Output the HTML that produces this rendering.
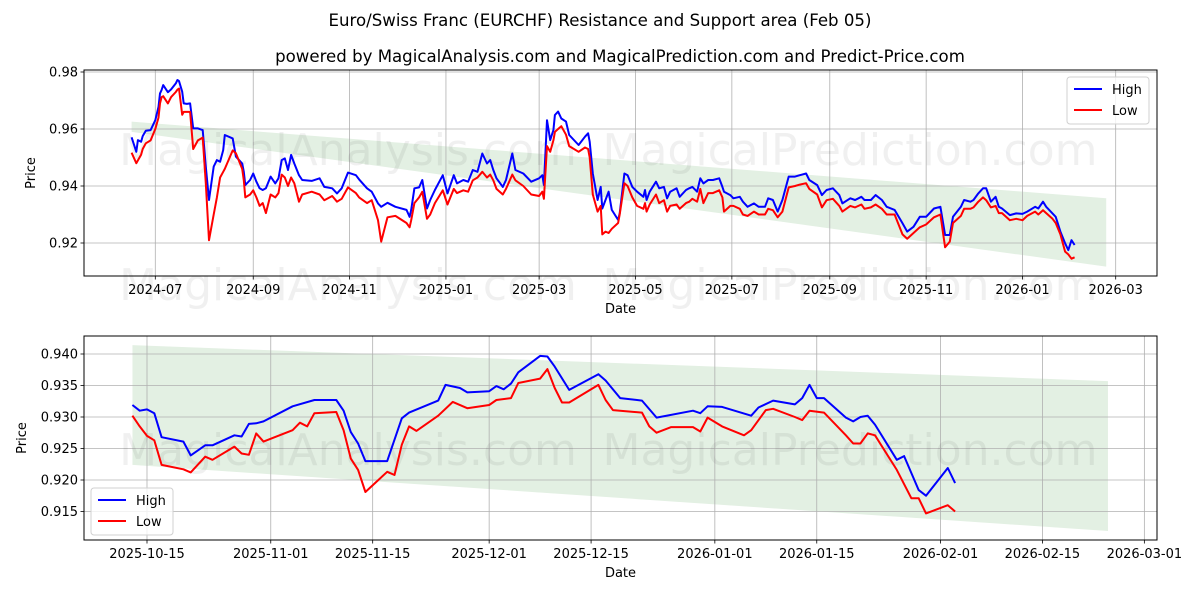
<!DOCTYPE html>
<html><head><meta charset="utf-8"><style>
body{margin:0;background:#fff;width:1200px;height:600px;overflow:hidden}
svg{display:block;font-family:"DejaVu Sans","Liberation Sans",sans-serif}
</style></head><body>
<svg id="chart" width="1200" height="600" viewBox="0 0 1200 600">
<text x="600" y="26" text-anchor="middle" font-size="16.6">Euro/Swiss Franc (EURCHF) Resistance and Support area (Feb 05)</text>
<text x="620" y="62" text-anchor="middle" font-size="16.6">powered by MagicalAnalysis.com and MagicalPrediction.com and Predict-Price.com</text>
<g id="top"></g>
<g id="bot"></g>
</svg>
<script>
// ---- top chart data (days since 2024-07-01) ----
const topDays=[-15,-12,-11,-9,-8,-6,-3,0,2,3,4,5,8,10,13,14,15,17,18,20,22,24,27,30,32,34,37,39,41,43,44,49,51,55,56,57,60,62,64,66,68,70,73,76,78,80,82,84,86,88,91,93,99,104,107,112,115,118,122,127,129,134,137,141,143,147,152,159,161,162,164,167,169,172,174,177,182,185,189,191,195,198,201,204,207,210,212,214,216,220,222,226,228,233,238,243,245,246,248,250,252,253,255,257,260,262,268,272,274,275,277,280,282,283,285,287,289,293,294,297,299,302,305,309,310,311,313,317,319,322,324,326,330,332,336,338,340,343,345,347,350,353,357,359,360,364,366,370,372,375,379,382,386,388,391,394,397,401,405,408,412,414,419,422,425,429,433,435,440,443,447,449,453,456,460,463,468,473,476,480,484,488,493,497,500,503,505,510,512,516,518,521,524,526,529,532,534,536,541,545,549,552,557,559,562,564,568,570,573,576,578,580,582];
const topHigh=[0.9571,0.9520,0.9561,0.9555,0.9575,0.9594,0.9596,0.9631,0.9678,0.9725,0.9737,0.9754,0.9729,0.9739,0.9760,0.9772,0.9768,0.9731,0.9690,0.9688,0.9690,0.9602,0.9602,0.9596,0.9468,0.9351,0.9468,0.9491,0.9485,0.9526,0.9579,0.9567,0.9503,0.9479,0.9450,0.9403,0.9421,0.9444,0.9415,0.9392,0.9386,0.9392,0.9433,0.9409,0.9427,0.9491,0.9497,0.9456,0.9509,0.9479,0.9438,0.9421,0.9418,0.9427,0.9397,0.9392,0.9374,0.9392,0.9447,0.9438,0.9423,0.9392,0.9380,0.9339,0.9327,0.9341,0.9327,0.9316,0.9292,0.9316,0.9392,0.9395,0.9421,0.9321,0.9351,0.9386,0.9438,0.9374,0.9438,0.9409,0.9421,0.9415,0.9456,0.9450,0.9514,0.9479,0.9491,0.9456,0.9427,0.9397,0.9421,0.9514,0.9456,0.9444,0.9415,0.9427,0.9438,0.9403,0.9631,0.9561,0.9596,0.9649,0.9661,0.9637,0.9626,0.9579,0.9544,0.9573,0.9585,0.9555,0.9444,0.9351,0.9397,0.9321,0.9351,0.9380,0.9316,0.9281,0.9304,0.9444,0.9438,0.9397,0.9380,0.9362,0.9386,0.9351,0.9380,0.9415,0.9392,0.9397,0.9357,0.9380,0.9392,0.9362,0.9386,0.9392,0.9397,0.9380,0.9427,0.9409,0.9421,0.9421,0.9427,0.9397,0.9380,0.9368,0.9357,0.9362,0.9345,0.9327,0.9339,0.9327,0.9327,0.9357,0.9351,0.9310,0.9351,0.9433,0.9433,0.9438,0.9444,0.9421,0.9403,0.9368,0.9386,0.9392,0.9368,0.9339,0.9357,0.9351,0.9362,0.9351,0.9351,0.9368,0.9351,0.9327,0.9316,0.9269,0.9240,0.9257,0.9292,0.9292,0.9321,0.9327,0.9228,0.9228,0.9292,0.9327,0.9351,0.9345,0.9351,0.9374,0.9392,0.9392,0.9345,0.9362,0.9327,0.9321,0.9298,0.9304,0.9302,0.9310,0.9327,0.9321,0.9345,0.9327,0.9304,0.9292,0.9240,0.9199,0.9175,0.9210,0.9193];
const topLow=[0.9517,0.9480,0.9490,0.9510,0.9530,0.9550,0.9560,0.9600,0.9640,0.9690,0.9712,0.9715,0.9690,0.9712,0.9730,0.9738,0.9742,0.9650,0.9660,0.9660,0.9660,0.9530,0.9560,0.9570,0.9410,0.9210,0.9300,0.9360,0.9430,0.9450,0.9460,0.9525,0.9515,0.9460,0.9420,0.9360,0.9370,0.9385,0.9360,0.9330,0.9340,0.9305,0.9370,0.9360,0.9375,0.9440,0.9430,0.9400,0.9430,0.9410,0.9345,0.9370,0.9380,0.9370,0.9350,0.9365,0.9345,0.9355,0.9395,0.9375,0.9360,0.9340,0.9350,0.9280,0.9205,0.9290,0.9295,0.9270,0.9255,0.9280,0.9340,0.9360,0.9380,0.9285,0.9300,0.9340,0.9385,0.9335,0.9390,0.9375,0.9385,0.9380,0.9420,0.9430,0.9450,0.9430,0.9440,0.9420,0.9390,0.9370,0.9390,0.9440,0.9420,0.9400,0.9370,0.9365,0.9380,0.9355,0.9540,0.9520,0.9560,0.9590,0.9600,0.9610,0.9580,0.9540,0.9520,0.9535,0.9530,0.9500,0.9370,0.9310,0.9330,0.9230,0.9240,0.9235,0.9250,0.9270,0.9300,0.9410,0.9400,0.9360,0.9330,0.9320,0.9340,0.9310,0.9335,0.9370,0.9340,0.9350,0.9310,0.9330,0.9335,0.9320,0.9340,0.9345,0.9355,0.9345,0.9390,0.9340,0.9375,0.9375,0.9385,0.9360,0.9310,0.9330,0.9330,0.9320,0.9300,0.9295,0.9310,0.9300,0.9300,0.9320,0.9315,0.9290,0.9310,0.9395,0.9400,0.9405,0.9410,0.9390,0.9370,0.9325,0.9350,0.9355,0.9330,0.9310,0.9330,0.9325,0.9335,0.9320,0.9325,0.9335,0.9320,0.9300,0.9300,0.9230,0.9215,0.9235,0.9255,0.9265,0.9290,0.9300,0.9185,0.9205,0.9270,0.9295,0.9320,0.9320,0.9325,0.9345,0.9360,0.9350,0.9325,0.9330,0.9305,0.9305,0.9280,0.9285,0.9280,0.9295,0.9310,0.9300,0.9315,0.9305,0.9285,0.9270,0.9230,0.9170,0.9160,0.9145,0.9150];
const topBandDays=[-15,602];
const topBandUpper=[0.9626,0.9357];
const topBandLower=[0.9590,0.9117];
const topTickDays=[0,62,123,184,243,304,365,427,488,549,608];
const topTickLabels=["2024-07","2024-09","2024-11","2025-01","2025-03","2025-05","2025-07","2025-09","2025-11","2026-01","2026-03"];
const topYTicks=[0.92,0.94,0.96,0.98];

// ---- bottom chart data (days since 2025-10-15) ----
const botHighDays=[-2,-1,0,1,2,5,6,8,9,12,13,14,15,16,20,23,26,27,28,29,30,33,35,36,40,41,43,44,47,48,49,50,51,54,55,56,58,62,63,65,68,70,75,76,77,79,83,84,86,89,90,91,92,93,96,97,98,99,100,103,104,106,107,110,111];
const botHigh=[0.9319,0.9310,0.9312,0.9306,0.9268,0.9261,0.9239,0.9255,0.9255,0.9271,0.9269,0.9289,0.9290,0.9293,0.9317,0.9327,0.9327,0.9310,0.9276,0.9258,0.9230,0.9230,0.9298,0.9307,0.9326,0.9351,0.9346,0.9339,0.9341,0.9349,0.9344,0.9353,0.9371,0.9397,0.9396,0.9380,0.9343,0.9368,0.9358,0.9330,0.9326,0.9299,0.9310,0.9306,0.9317,0.9316,0.9302,0.9315,0.9326,0.9320,0.9330,0.9351,0.9330,0.9330,0.9299,0.9293,0.9300,0.9302,0.9288,0.9232,0.9238,0.9184,0.9175,0.9219,0.9195];
const botLowDays=[-2,-1,0,1,2,5,6,8,9,12,13,14,15,16,20,21,22,23,26,27,28,29,30,33,34,35,36,37,40,42,44,47,48,50,51,54,55,56,57,58,62,63,64,68,69,70,72,75,76,77,79,82,83,85,86,89,90,91,93,96,97,98,99,100,103,105,106,107,110,111];
const botLow=[0.9302,0.9285,0.9270,0.9263,0.9224,0.9217,0.9212,0.9237,0.9232,0.9253,0.9242,0.9240,0.9274,0.9261,0.9279,0.9291,0.9285,0.9306,0.9308,0.9279,0.9234,0.9216,0.9181,0.9213,0.9208,0.9256,0.9285,0.9278,0.9302,0.9324,0.9314,0.9319,0.9327,0.9330,0.9354,0.9361,0.9376,0.9346,0.9323,0.9323,0.9351,0.9327,0.9311,0.9307,0.9285,0.9275,0.9284,0.9284,0.9277,0.9299,0.9285,0.9271,0.9279,0.9311,0.9313,0.9300,0.9295,0.9310,0.9307,0.9271,0.9258,0.9258,0.9274,0.9271,0.9216,0.9171,0.9171,0.9147,0.9160,0.9150];
const botBandDays=[-2,132];
const botBandUpper=[0.9414,0.9357];
const botBandLower=[0.9224,0.9119];
const botTickDays=[0,17,31,47,61,78,92,109,123,137];
const botTickLabels=["2025-10-15","2025-11-01","2025-11-15","2025-12-01","2025-12-15","2026-01-01","2026-01-15","2026-02-01","2026-02-15","2026-03-01"];
const botYTicks=[0.915,0.920,0.925,0.930,0.935,0.940];

const NS="http://www.w3.org/2000/svg";
function mk(parent,tag,attrs,text){const e=document.createElementNS(NS,tag);for(const k in attrs)e.setAttribute(k,attrs[k]);if(text!==undefined)e.textContent=text;parent.appendChild(e);return e;}

function panel(g,o){
  const {L,R,T,B,xf,yf}=o;
  const clip=mk(g,'clipPath',{id:o.id+'clip'});mk(clip,'rect',{x:L,y:T,width:R-L,height:B-T});
  const bp=[];
  for(let i=0;i<o.bandDays.length;i++)bp.push(xf(o.bandDays[i])+','+yf(o.bandUpper[i]));
  for(let i=o.bandDays.length-1;i>=0;i--)bp.push(xf(o.bandDays[i])+','+yf(o.bandLower[i]));
  const band=mk(g,'polygon',{points:bp.join(' '),fill:'#e3f0e3','clip-path':'url(#'+o.id+'clip)'});
  
  
  o.yTicks.forEach(v=>{
    const y=yf(v);
    const gl=mk(g,'line',{x1:L,x2:R,y1:y,y2:y,stroke:'#b0b0b0','stroke-width':0.8});
    
    
    mk(g,'line',{x1:L-3.5,x2:L,y1:y,y2:y,stroke:'#000','stroke-width':0.8});
    const t=mk(g,'text',{x:L-6,y:y+4.5,'text-anchor':'end','font-size':13},o.yFmt(v));
    
    
  });
  o.tickDays.forEach((d,i)=>{
    const x=xf(d);
    const gl=mk(g,'line',{x1:x,x2:x,y1:T,y2:B,stroke:'#b0b0b0','stroke-width':0.8});
    
    
    mk(g,'line',{x1:x,x2:x,y1:B,y2:B+3.5,stroke:'#000','stroke-width':0.8});
    const t=mk(g,'text',{x:x,y:B+18,'text-anchor':'middle','font-size':13},o.tickLabels[i]);
    
    
  });
  o.marks.forEach(m=>{
    const w=mk(g,'text',{x:m[0],y:m[1],'text-anchor':'middle','font-size':44,fill:'#000','fill-opacity':0.06},m[2]);
    
    
  });
  function line(days,vals,color,name){
    const p=days.map((d,i)=>xf(d).toFixed(1)+','+yf(vals[i]).toFixed(1)).join(' ');
    const l=mk(g,'polyline',{points:p,fill:'none',stroke:color,'stroke-width':2,'stroke-linejoin':'round','clip-path':'url(#'+o.id+'clip)'});
    
    
  }
  line(o.hiDays,o.hi,'#0000ff','high-line');
  line(o.loDays,o.lo,'#ff0000','low-line');
  const fr=mk(g,'rect',{x:L,y:T,width:R-L,height:B-T,fill:'none',stroke:'#000','stroke-width':1});
  
  
  const xl=mk(g,'text',{x:(L+R)/2,y:B+37,'text-anchor':'middle','font-size':13},'Date');
  
  
  const yl=mk(g,'text',{x:o.ylX,y:(T+B)/2,'text-anchor':'middle','font-size':13,transform:'rotate(-90 '+o.ylX+' '+(T+B)/2+')'},'Price');
  
  
  const [lx,ly]=o.leg;
  const lg=mk(g,'g',{});
  
  
  mk(lg,'rect',{x:lx,y:ly,width:82,height:47,rx:3,fill:'#fff','fill-opacity':0.8,stroke:'#d0d0d0'});
  [['High','#0000ff'],['Low','#ff0000']].forEach((e,i)=>{
    const ent=mk(lg,'g',{});
    
    
    const yy=ly+12+i*21;
    mk(ent,'line',{x1:lx+7,x2:lx+35,y1:yy,y2:yy,stroke:e[1],'stroke-width':2});
    mk(ent,'text',{x:lx+45,y:yy+5,'font-size':13},e[0]);
  });
}

panel(document.getElementById('top'),{id:'t',L:84,R:1157,T:70,B:276,
  xf:d=>155.3+1.5796*d, yf:v=>243-(v-0.92)*2850,
  yTicks:topYTicks,yFmt:v=>v.toFixed(2),tickDays:topTickDays,tickLabels:topTickLabels,
  bandDays:topBandDays,bandUpper:topBandUpper,bandLower:topBandLower,
  hiDays:topDays,hi:topHigh,loDays:topDays,lo:topLow,ylX:35,leg:[1067,77],
  marks:[[348,165,'MagicalAnalysis.com'],[850,165,'MagicalPrediction.com'],[348,300,'MagicalAnalysis.com'],[850,300,'MagicalPrediction.com']]});
panel(document.getElementById('bot'),{id:'b',L:84,R:1157,T:336,B:540,
  xf:d=>147+7.28*d, yf:v=>354+(0.94-v)*6300,
  yTicks:botYTicks,yFmt:v=>v.toFixed(3),tickDays:botTickDays,tickLabels:botTickLabels,
  bandDays:botBandDays,bandUpper:botBandUpper,bandLower:botBandLower,
  hiDays:botHighDays,hi:botHigh,loDays:botLowDays,lo:botLow,ylX:26,leg:[91,488],
  marks:[[348,465,'MagicalAnalysis.com'],[850,465,'MagicalPrediction.com']]});
</script>
</body></html>
